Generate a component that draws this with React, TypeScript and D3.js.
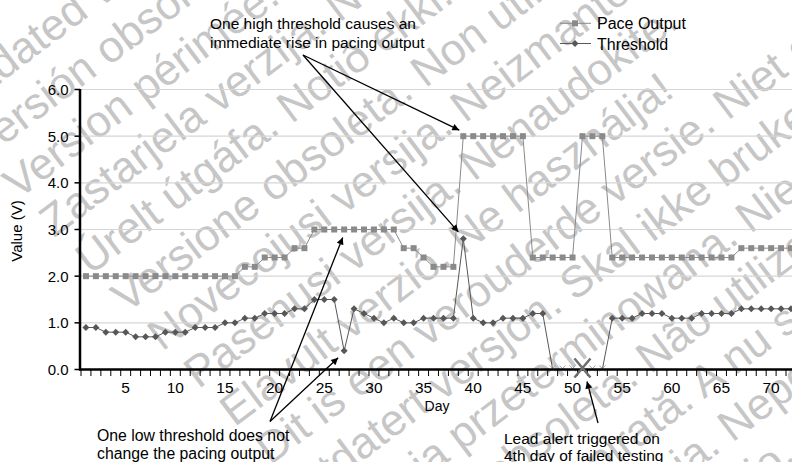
import React from "react";
import * as d3 from "d3";

// ---------- data ----------
const days: number[] = [
  1, 2, 3, 4, 5, 6, 7, 8, 9, 10, 11, 12, 13, 14, 15, 16, 17, 18, 19, 20, 21, 22, 23, 24,
  25, 26, 27, 28, 29, 30, 31, 32, 33, 34, 35, 36, 37, 38, 39, 40, 41, 42, 43, 44, 45, 46, 47, 48,
  49, 50, 51, 52, 53, 54, 55, 56, 57, 58, 59, 60, 61, 62, 63, 64, 65, 66, 67, 68, 69, 70, 71, 72,
];

const paceOutput: number[] = [
  2.0, 2.0, 2.0, 2.0, 2.0, 2.0, 2.0, 2.0, 2.0, 2.0, 2.0, 2.0, 2.0, 2.0, 2.0, 2.0,
  2.2, 2.2, 2.4, 2.4, 2.4, 2.6, 2.6,
  3.0, 3.0, 3.0, 3.0, 3.0, 3.0, 3.0, 3.0, 3.0,
  2.6, 2.6, 2.4, 2.2, 2.2, 2.2,
  5.0, 5.0, 5.0, 5.0, 5.0, 5.0, 5.0,
  2.4, 2.4, 2.4, 2.4, 2.4,
  5.0, 5.0, 5.0,
  2.4, 2.4, 2.4, 2.4, 2.4, 2.4, 2.4, 2.4, 2.4, 2.4, 2.4, 2.4, 2.4,
  2.6, 2.6, 2.6, 2.6, 2.6, 2.6,
];

const threshold: number[] = [
  0.9, 0.9, 0.8, 0.8, 0.8, 0.7, 0.7, 0.7, 0.8, 0.8, 0.8, 0.9, 0.9, 0.9, 1.0, 1.0,
  1.1, 1.1, 1.2, 1.2, 1.2, 1.3, 1.3,
  1.5, 1.5, 1.5, 0.4, 1.3, 1.2, 1.1, 1.0, 1.1,
  1.0, 1.0, 1.1, 1.1, 1.1, 1.1,
  2.8, 1.1, 1.0, 1.0, 1.1, 1.1, 1.1,
  1.2, 1.2, 0.0, 0.0, 0.0,
  0.0, 0.0, 0.0,
  1.1, 1.1, 1.1, 1.2, 1.2, 1.2, 1.1, 1.1, 1.1, 1.2, 1.2, 1.2, 1.2,
  1.3, 1.3, 1.3, 1.3, 1.3, 1.3,
];

const failedDays: number[] = [48, 49, 50, 51, 52, 53];
const alertDay = 51;

const xTickLabels: number[] = [5, 10, 15, 20, 25, 30, 35, 40, 45, 50, 55, 60, 65, 70];
const yTicks: number[] = [0, 1, 2, 3, 4, 5, 6];

const seriesNames: string[] = ["Pace Output", "Threshold"];

const watermarkLines: string[] = [
  "Outdated version. Do not use.",
  "Versión obsoleta. No utilizar.",
  "Version périmée. Ne pas utiliser.",
  "Zastarjela verzija. Nemojte upotrebljavati.",
  "Úrelt útgáfa. Notið ekki.",
  "Versione obsoleta. Non utilizzare.",
  "Novecojusi versija. Neizmantot.",
  "Pasenusi versija. Nenaudokite.",
  "Elavult verzió. Ne használja!",
  "Dit is een verouderde versie. Niet gebruiken.",
  "Utdatert versjon. Skal ikke brukes.",
  "Wersja przeterminowana. Nie używać.",
  "Versão obsoleta. Não utilize.",
  "Versiune expirată. A nu se utiliza.",
  "Zastaraná verzia. Nepoužívať.",
  "Vanhentunut versio. Älä käytä.",
];

// ---------- layout ----------
const W = 792;
const H = 462;
const FONT = "'Liberation Sans', Arial, Helvetica, sans-serif";
const PACE_COLOR = "#8a8a8a";
const THR_COLOR = "#575757";

export default function App() {
  const x = d3
    .scaleBand<number>()
    .domain(days)
    .range([81, 81 + days.length * 9.93])
    .padding(0);
  const cx = (d: number) => (x(d) as number) + x.bandwidth() / 2;
  const y = d3.scaleLinear().domain([0, 6]).range([369.5, 89.5]);

  const paceLine = d3
    .line<number>()
    .x((_, i) => cx(days[i]))
    .y((v) => y(v))(paceOutput) as string;
  const thrLine = d3
    .line<number>()
    .x((_, i) => cx(days[i]))
    .y((v) => y(v))(threshold) as string;

  const boundaries = days
    .map((d) => x(d) as number)
    .concat([(x(days[days.length - 1]) as number) + x.bandwidth()]);

  // watermark placement
  const angDeg = 37;
  const ang = (angDeg * Math.PI) / 180;
  const ux = Math.cos(ang), uy = -Math.sin(ang);
  const vx = Math.sin(ang), vy = Math.cos(ang);
  const sp = 52, shift = 6;
  const base = { x: 18 - 2 * (sp * vx + shift * ux), y: 200 - 2 * (sp * vy + shift * uy) };

  const diamond = (px: number, py: number, r: number) =>
    `M${px},${py - r}L${px + r},${py}L${px},${py + r}L${px - r},${py}Z`;

  return (
    <svg
      width={W}
      height={H}
      style={{ position: "absolute", left: 0, top: 0, background: "#fff" }}
      fontFamily={FONT}
    >
      <defs>
        <marker
          id="arr"
          viewBox="0 0 10 10"
          refX="10"
          refY="5"
          markerUnits="userSpaceOnUse"
          markerWidth="10"
          markerHeight="7"
          orient="auto"
        >
          <path d="M0,0L10,5L0,10Z" fill="#000" />
        </marker>
      </defs>
      <rect x={0} y={0} width={W} height={H} fill="#fff" />

      {/* watermark */}
      <g fill="#c6c6c6" fontSize={44}>
        {watermarkLines.map((t, i) => {
          const px = base.x + i * (sp * vx + shift * ux);
          const py = base.y + i * (sp * vy + shift * uy);
          return (
            <text key={i} transform={`translate(${px.toFixed(1)},${py.toFixed(1)}) rotate(${-angDeg})`}>
              {t}
            </text>
          );
        })}
      </g>

      {/* gridlines */}
      {yTicks
        .filter((t) => t > 0)
        .map((t) => (
          <line key={t} x1={81} x2={W} y1={y(t)} y2={y(t)} stroke="#d6d6d6" strokeWidth={1.2} />
        ))}

      {/* pace output */}
      <path d={paceLine} fill="none" stroke={PACE_COLOR} strokeWidth={1} />
      {paceOutput.map((v, i) => (
        <rect key={i} x={cx(days[i]) - 3} y={y(v) - 3} width={6} height={6} fill={PACE_COLOR} />
      ))}

      {/* threshold */}
      <path d={thrLine} fill="none" stroke={THR_COLOR} strokeWidth={1} />
      {threshold.map((v, i) => {
        const d = days[i];
        if (failedDays.includes(d)) {
          const px = cx(d), py = y(v) - 1;
          const r = 3;
          return (
            <path
              key={i}
              d={`M${px - r},${py - r}L${px + r},${py + r}M${px - r},${py + r}L${px + r},${py - r}`}
              stroke="#a0a0a0"
              strokeWidth={1}
            />
          );
        }
        return <path key={i} d={diamond(cx(d), y(v), 3.5)} fill={THR_COLOR} />;
      })}

      {/* axes */}
      <line x1={80} x2={80} y1={89} y2={370.5} stroke="#000" strokeWidth={2.5} />
      {yTicks.map((t) => (
        <g key={t}>
          <line x1={74.5} x2={80} y1={y(t)} y2={y(t)} stroke="#000" strokeWidth={1.5} />
          <text x={68.5} y={y(t)} dy="0.36em" textAnchor="end" fontSize={15} fill="#000">
            {t.toFixed(1)}
          </text>
        </g>
      ))}
      <line x1={79} x2={W} y1={369.5} y2={369.5} stroke="#000" strokeWidth={2.5} />
      {boundaries.map((b, i) => (
        <line key={i} x1={b} x2={b} y1={370} y2={376} stroke="#000" strokeWidth={1} />
      ))}
      {xTickLabels.map((d) => (
        <text key={d} x={cx(d)} y={393} textAnchor="middle" fontSize={15.5} fill="#000">
          {d}
        </text>
      ))}

      {/* alert X */}
      {(() => {
        const px = cx(alertDay), py = y(0) - 1;
        return (
          <path
            d={`M${px - 8},${py - 10}L${px + 8},${py + 9}M${px - 8},${py + 9}L${px + 8},${py - 10}`}
            stroke="#6e6e6e"
            strokeWidth={2.5}
          />
        );
      })()}

      <text x={437} y={411} textAnchor="middle" fontSize={14} fill="#000">
        Day
      </text>
      <text transform={`translate(22,231) rotate(-90)`} textAnchor="middle" fontSize={15} fill="#000">
        Value (V)
      </text>

      {/* legend */}
      <g>
        <line x1={560} x2={591} y1={23.3} y2={23.3} stroke={PACE_COLOR} strokeWidth={1} />
        <rect x={572} y={20.3} width={6} height={6} fill={PACE_COLOR} />
        <text x={597} y={29.3} fontSize={16} fill="#000">
          {seriesNames[0]}
        </text>
        <line x1={560} x2={591} y1={43.5} y2={43.5} stroke={THR_COLOR} strokeWidth={1} />
        <path d={diamond(575, 43.5, 3.5)} fill={THR_COLOR} />
        <text x={597} y={49.7} fontSize={16} fill="#000">
          {seriesNames[1]}
        </text>
      </g>

      {/* annotations */}
      <g fontSize={15.5} fill="#000">
        <text x={210} y={29.3}>One high threshold causes an</text>
        <text x={210} y={48.3}>immediate rise in pacing output</text>
        <text x={97} y={441} fontSize={15.8}>One low threshold does not</text>
        <text x={97} y={459} fontSize={15.8}>change the pacing output</text>
        <text x={504} y={444}>Lead alert triggered on</text>
        <text x={504} y={460.5}>4th day of failed testing</text>
      </g>
      <g stroke="#000" strokeWidth={1.3} markerEnd="url(#arr)">
        <line x1={303} y1={55} x2={cx(39) - 4} y2={y(5) - 6} />
        <line x1={303} y1={55} x2={cx(39) - 5} y2={y(2.8) - 7} />
        <line x1={270} y1={421.5} x2={cx(26) + 8.5} y2={y(3) + 8} />
        <line x1={270} y1={421.5} x2={cx(27) - 6} y2={y(0.4) + 7} />
        <line x1={598} y1={423} x2={587} y2={381.5} />
      </g>
    </svg>
  );
}
